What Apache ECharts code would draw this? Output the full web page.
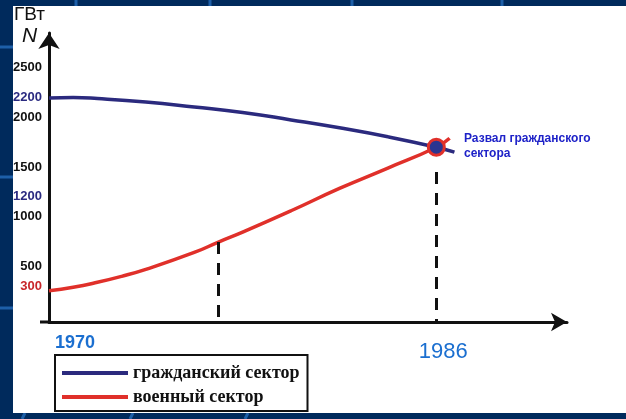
<!DOCTYPE html>
<html>
<head>
<meta charset="utf-8">
<script src="https://cdn.jsdelivr.net/npm/echarts@6/dist/echarts.min.js"></script>
<style>
  html, body { margin: 0; padding: 0; background: #002a5c; }
  #chart { width: 626px; height: 419px; }
</style>
</head>
<body>
<div id="chart"></div>
<script>
// гражданский сектор
var civilYears = [1970, 1971, 1972, 1974, 1976, 1978, 1980, 1982, 1984, 1986, 1986.75];
var civilValues = [2195, 2200, 2190, 2155, 2105, 2050, 1975, 1895, 1805, 1700, 1650];
// военный сектор
var militaryYears = [1970, 1971, 1972, 1973, 1974, 1976, 1977, 1978, 1980, 1982, 1984, 1986, 1986.55];
var militaryValues = [255, 290, 340, 400, 470, 640, 745, 845, 1060, 1285, 1490, 1700, 1790];
// точка пересечения
var crossPoint = [1986, 1700];
// пунктирные опускания
var dropYears = [1977, 1986];
var dropTops = [745, 1450];
// подписи осей
var yTicks = [300, 500, 1000, 1200, 1500, 2000, 2200, 2500];
var xTicks = [1970, 1986];

function pairs(xs, ys) {
  return xs.map(function (x, i) { return [x, ys[i]]; });
}

var chart = echarts.init(document.getElementById("chart"));

var option = {
  backgroundColor: "#002a5c",
  animation: false,
  textStyle: { fontFamily: "Liberation Sans" },
  graphic: [
    // фон слайда
    { type: "line", z: -100, shape: { x1: 0, y1: 47, x2: 13, y2: 47 }, style: { stroke: "#1d5fa8", lineWidth: 3 } },
    { type: "line", z: -100, shape: { x1: 0, y1: 177, x2: 13, y2: 177 }, style: { stroke: "#1d5fa8", lineWidth: 3 } },
    { type: "line", z: -100, shape: { x1: 0, y1: 308, x2: 13, y2: 308 }, style: { stroke: "#1d5fa8", lineWidth: 3 } },
    { type: "line", z: -100, shape: { x1: 76, y1: 0, x2: 76, y2: 6 }, style: { stroke: "#1d5fa8", lineWidth: 3 } },
    { type: "line", z: -100, shape: { x1: 210, y1: 0, x2: 210, y2: 6 }, style: { stroke: "#1d5fa8", lineWidth: 3 } },
    { type: "line", z: -100, shape: { x1: 352, y1: 0, x2: 352, y2: 6 }, style: { stroke: "#1d5fa8", lineWidth: 3 } },
    { type: "line", z: -100, shape: { x1: 502, y1: 0, x2: 502, y2: 6 }, style: { stroke: "#1d5fa8", lineWidth: 3 } },
    { type: "line", z: -100, shape: { x1: 22, y1: 419, x2: 25, y2: 413 }, style: { stroke: "#1d5fa8", lineWidth: 3 } },
    { type: "line", z: -100, shape: { x1: 130, y1: 419, x2: 133, y2: 413 }, style: { stroke: "#1d5fa8", lineWidth: 3 } },
    { type: "line", z: -100, shape: { x1: 245, y1: 419, x2: 248, y2: 413 }, style: { stroke: "#1d5fa8", lineWidth: 3 } },
    { type: "rect", z: -99, shape: { x: 13, y: 6, width: 613, height: 407 }, style: { fill: "#ffffff" } },
    { type: "line", z: 1, shape: { x1: 40, y1: 322, x2: 50, y2: 322 }, style: { stroke: "#111", lineWidth: 3 } },
    // подписи
    { type: "text", left: 14, top: 5, style: { text: "ГВт", fontSize: 19, fontFamily: "Liberation Sans", fill: "#111" } },
    { type: "text", left: 22, top: 26, style: { text: "N", fontSize: 21, fontStyle: "italic", fontFamily: "Liberation Sans", fill: "#111" } },
    { type: "text", left: 464, top: 131, style: {
        text: "Развал гражданского\nсектора", fontSize: 12, fontWeight: "bold",
        lineHeight: 15, fontFamily: "Liberation Sans", fill: "#1e22c8" } }
  ],
  grid: { left: 49, right: 59, top: 33, bottom: 97, containLabel: false },
  legend: {
    orient: "vertical",
    left: 55,
    top: 355,
    backgroundColor: "#fff",
    borderColor: "#111",
    borderWidth: 2,
    borderRadius: 0,
    padding: [9, 8, 5, 7],
    itemGap: 6,
    itemWidth: 66,
    itemHeight: 4,
    icon: "rect",
    data: ["гражданский сектор", "военный сектор"],
    textStyle: { fontFamily: "Liberation Serif", fontWeight: "bold", fontSize: 18, color: "#111" }
  },
  xAxis: {
    type: "value",
    min: 1970,
    max: 1991.4,
    splitLine: { show: false },
    axisTick: { show: false },
    axisLine: {
      onZero: false,
      symbol: ["none", "arrow"],
      symbolSize: [14, 16],
      lineStyle: { color: "#111", width: 3 }
    },
    axisLabel: {
      customValues: xTicks,
      margin: 12,
      verticalAlign: "top",
      formatter: function (v) { return v === 1970 ? "{a|1970}" : "{b|" + v + "}"; },
      rich: {
        a: { fontSize: 18, fontWeight: "bold", color: "#1b6fd0", padding: [0, 0, 0, 52] },
        b: { fontSize: 22, color: "#1b6fd0", padding: [7, 0, 0, 14] }
      }
    }
  },
  yAxis: {
    type: "value",
    min: -60,
    max: 2850,
    splitLine: { show: false },
    axisTick: { show: false },
    axisLine: {
      show: true,
      onZero: false,
      symbol: ["none", "arrow"],
      symbolSize: [16, 16],
      lineStyle: { color: "#111", width: 3 }
    },
    axisLabel: {
      customValues: yTicks,
      margin: 7,
      formatter: function (v) {
        if (v === 2200 || v === 1200) return "{c|" + v + "}";
        if (v === 300) return "{r|" + v + "}";
        return "{k|" + v + "}";
      },
      rich: {
        k: { fontSize: 13, fontWeight: "bold", color: "#111" },
        c: { fontSize: 13, fontWeight: "bold", color: "#2a2a80" },
        r: { fontSize: 13, fontWeight: "bold", color: "#c8262a" }
      }
    }
  },
  series: [
    {
      name: "гражданский сектор",
      type: "line",
      smooth: true,
      showSymbol: false,
      color: "#2b2a7e",
      lineStyle: { color: "#2b2a7e", width: 3.5 },
      data: pairs(civilYears, civilValues),
      z: 3
    },
    {
      name: "военный сектор",
      type: "line",
      smooth: true,
      showSymbol: false,
      color: "#e0302a",
      lineStyle: { color: "#e0302a", width: 3.5 },
      data: pairs(militaryYears, militaryValues),
      z: 3,
      markLine: {
        silent: true,
        symbol: ["none", "none"],
        label: { show: false },
        lineStyle: { color: "#111", width: 3, type: [12, 9] },
        data: dropYears.map(function (y, i) {
          return [{ coord: [y, dropTops[i]] }, { coord: [y, -60] }];
        })
      }
    },
    {
      name: "Развал",
      type: "scatter",
      symbolSize: 16,
      itemStyle: { color: "#2b3590", borderColor: "#e0302a", borderWidth: 3, opacity: 1 },
      data: [crossPoint],
      z: 5
    }
  ]
};

chart.setOption(option);
</script>
</body>
</html>
